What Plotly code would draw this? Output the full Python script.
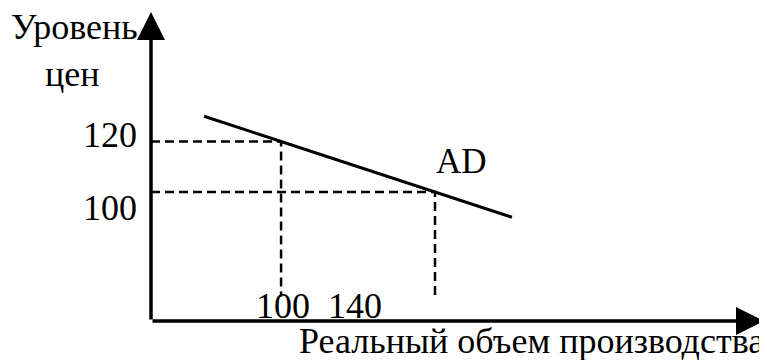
import plotly.graph_objects as go

# aggregate demand curve AD (output, price level)
ad_output = [80, 160]
ad_price = [130, 90]

# equilibrium points
price_levels = [120, 100]
output_levels = [100, 140]

# labels
price_labels = ["120", "100"]
output_labels = ["100", "140"]
y_title = ["Уровень", "цен"]
x_title = "Реальный объем производства"
curve_name = "AD"

x0, x1 = 66.2, 225.5
y0, y1 = 48.9, 171.3
drop_floor = 58.5

FAMILY = "Liberation Serif, Times New Roman, serif"
FONT = dict(family=FAMILY, size=36, color="black")

fig = go.Figure()

# dashed guides
for q, p in zip(output_levels, price_levels):
    fig.add_trace(go.Scatter(
        x=[x0, q, q], y=[p, p, drop_floor],
        mode="lines", line=dict(color="black", width=2.5, dash="9px,5px"),
        hoverinfo="skip", showlegend=False))

fig.add_trace(go.Scatter(
    x=ad_output, y=ad_price, mode="lines",
    line=dict(color="black", width=3), name=curve_name, showlegend=False))

ann = []
# axes with arrows
ann.append(dict(x=x1, y=y0, ax=x0, ay=y0, xref="x", yref="y", axref="x", ayref="y",
                showarrow=True, arrowhead=2, arrowsize=1.6, arrowwidth=3.5,
                arrowcolor="black", text=""))
ann.append(dict(x=x0, y=y1, ax=x0, ay=y0, xref="x", yref="y", axref="x", ayref="y",
                showarrow=True, arrowhead=2, arrowsize=1.6, arrowwidth=3.5,
                arrowcolor="black", text=""))

# price tick labels
for p, lab, ys in zip(price_levels, price_labels, [7, -16]):
    ann.append(dict(x=x0, y=p, xref="x", yref="y", text=lab, showarrow=False,
                    xanchor="right", yanchor="middle", xshift=-12, yshift=ys, font=FONT))

# output tick labels
for q, lab, xs in zip(output_levels, output_labels, [2, -80]):
    ann.append(dict(x=q, y=y0, xref="x", yref="y", text=lab, showarrow=False,
                    xanchor="center", yanchor="bottom", xshift=xs, yshift=-7, font=FONT))

ann.append(dict(x=147, y=112, xref="x", yref="y", text=curve_name, showarrow=False,
                xanchor="center", yanchor="middle", font=dict(FONT, size=35)))

# axis titles
ann.append(dict(x=0, y=1, xref="paper", yref="paper", text=y_title[0], showarrow=False,
                xanchor="center", yanchor="middle", xshift=-77, yshift=-15, font=FONT))
ann.append(dict(x=0, y=1, xref="paper", yref="paper", text=y_title[1], showarrow=False,
                xanchor="center", yanchor="middle", xshift=-79, yshift=-62, font=FONT))
ann.append(dict(x=1, y=0, xref="paper", yref="paper", text=x_title, showarrow=False,
                xanchor="right", yanchor="top", xshift=2, yshift=2, font=FONT))

# page body adds an 8px margin, so the figure is drawn 8px smaller
fig.update_layout(
    width=759, height=352,
    margin=dict(l=143, r=3, t=4, b=39),
    paper_bgcolor="white", plot_bgcolor="white",
    xaxis=dict(range=[x0, x1], visible=False),
    yaxis=dict(range=[y0, y1], visible=False),
    annotations=ann,
    showlegend=False,
)

fig.write_html("out.html")
